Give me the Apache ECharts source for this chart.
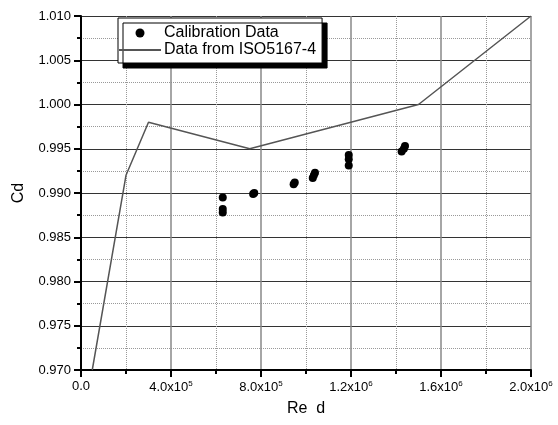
<!DOCTYPE html>
<html>
<head>
<meta charset="utf-8">
<script src="https://cdn.jsdelivr.net/npm/echarts@6/dist/echarts.min.js"></script>
<style>
  html, body { margin: 0; padding: 0; background: #fff; }
  #main { width: 558px; height: 425px; }
</style>
</head>
<body>
<div id="main"></div>
<script>
// calibration measurements
var calibRe = [6.3e5, 6.3e5, 6.3e5, 7.65e5, 7.7e5, 9.45e5, 9.5e5, 1.03e6, 1.035e6, 1.04e6,
  1.19e6, 1.19e6, 1.19e6, 1.425e6, 1.435e6, 1.44e6];
var calibCd = [0.9895, 0.9882, 0.9878, 0.9899, 0.9900, 0.9910, 0.9912, 0.9917, 0.9920, 0.9923,
  0.9931, 0.9938, 0.9943, 0.9947, 0.9950, 0.9953];

// ISO5167-4 curve
var isoRe = [5e4, 2e5, 3e5, 7.5e5, 1.5e6, 2e6];
var isoCd = [0.970, 0.992, 0.998, 0.995, 1.000, 1.010];

var font = 'Liberation Sans, Arial, sans-serif';

function sciLabel(v) {
  if (v === 0) return '0.0';
  var e = Math.floor(Math.log10(v) + 1e-9);
  var m = v / Math.pow(10, e);
  return m.toFixed(1) + 'x10{sup|' + e + '}';
}

var myChart = echarts.init(document.getElementById('main'));
var option = {
  animation: false,
  backgroundColor: '#fff',
  textStyle: { fontFamily: font },
  grid: { left: 81, right: 27, top: 16, bottom: 55 },
  legend: {
    orient: 'vertical',
    left: 118,
    top: 18,
    padding: [7, 6, 5, 0],
    itemGap: 1,
    itemWidth: 42,
    itemHeight: 9,
    backgroundColor: '#fff',
    borderColor: '#000',
    borderWidth: 1,
    shadowColor: '#000',
    shadowBlur: 0,
    shadowOffsetX: 5,
    shadowOffsetY: 5,
    textStyle: { fontSize: 16, color: '#000', fontFamily: font, padding: [0, 0, 0, -2] },
    data: [
      { name: 'Calibration Data', icon: 'circle' },
      { name: 'Data from ISO5167-4', itemStyle: { opacity: 0 } }
    ]
  },
  xAxis: {
    type: 'value',
    min: 0,
    max: 2e6,
    interval: 4e5,
    name: 'Re  d',
    nameLocation: 'middle',
    nameGap: 31,
    nameTextStyle: { fontSize: 16, color: '#000', fontFamily: font },
    axisLine: { lineStyle: { color: '#000', width: 2 } },
    axisTick: { length: 7, lineStyle: { color: '#000', width: 2 } },
    minorTick: { show: true, splitNumber: 2, length: 4, lineStyle: { color: '#000', width: 2 } },
    splitLine: { show: true, lineStyle: { color: '#888', width: 1.5 } },
    minorSplitLine: { show: true, lineStyle: { color: '#999', width: 1, type: [1, 1] } },
    axisLabel: {
      color: '#000',
      fontSize: 13,
      margin: 10,
      fontFamily: font,
      formatter: sciLabel,
      rich: { sup: { fontSize: 8, verticalAlign: 'top', padding: [0, 0, 6, 0], color: '#000' } }
    }
  },
  yAxis: {
    type: 'value',
    min: 0.970,
    max: 1.010,
    interval: 0.005,
    name: 'Cd',
    nameLocation: 'middle',
    nameGap: 54,
    nameTextStyle: { fontSize: 16, color: '#000', fontFamily: font },
    axisLine: { show: true, lineStyle: { color: '#000', width: 2 } },
    axisTick: { show: true, length: 7, lineStyle: { color: '#000', width: 2 } },
    minorTick: { show: true, splitNumber: 2, length: 4, lineStyle: { color: '#000', width: 2 } },
    splitLine: { show: true, lineStyle: { color: '#333', width: 1 } },
    minorSplitLine: { show: true, lineStyle: { color: '#999', width: 1, type: [1, 1] } },
    axisLabel: {
      color: '#000',
      fontSize: 13,
      margin: 10,
      fontFamily: font,
      formatter: function (v) { return v.toFixed(3); }
    }
  },
  series: [
    {
      name: 'Calibration Data',
      type: 'scatter',
      symbol: 'circle',
      symbolSize: 8,
      itemStyle: { color: '#000', opacity: 1 },
      data: calibRe.map(function (x, i) { return [x, calibCd[i]]; }),
      z: 3
    },
    {
      name: 'Data from ISO5167-4',
      type: 'line',
      symbol: 'none',
      lineStyle: { color: '#555', width: 1.5 },
      itemStyle: { color: '#555' },
      data: isoRe.map(function (x, i) { return [x, isoCd[i]]; }),
      z: 2
    }
  ]
};
myChart.setOption(option);
</script>
</body>
</html>
